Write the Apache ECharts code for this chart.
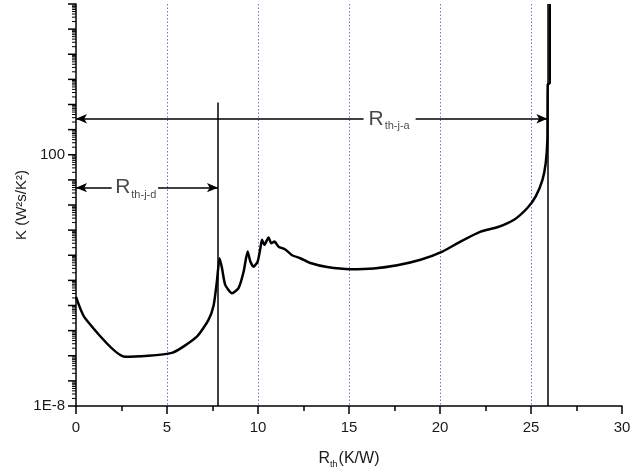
<!DOCTYPE html>
<html>
<head>
<meta charset="utf-8">
<title>Structure function</title>
<script src="https://cdn.jsdelivr.net/npm/echarts@6/dist/echarts.min.js"></script>
<style>
  html, body { margin: 0; background: #fff; }
  #main { width: 630px; height: 467px; }
</style>
</head>
<body>
<div id="main"></div>
<script>
// cumulative thermal resistance R_th (K/W)
const rth = [0, 0.5, 2.7, 5.27, 6.64, 7.28, 7.56, 7.74, 7.89, 8.02, 8.2, 8.57, 8.93, 9.21, 9.43,
  9.58, 9.76, 9.98, 10.13, 10.22, 10.35, 10.58, 10.73, 10.9, 11.13, 11.5, 11.87, 12.33, 12.88,
  13.8, 15.08, 16.36, 17.65, 18.93, 20.13, 21.13, 22.23, 23.15, 24.07, 24.8, 25.26, 25.63,
  25.81, 25.9, 25.92, 26.03, 26.03];
// differential structure function K (W^2 s/K^2)
const kValues = [2.2e-4, 3.1e-5, 9.1e-7, 1.3e-6, 5.8e-6, 2.7e-5, 1.0e-4, 8.9e-4, 7.6e-3, 3.1e-3,
  6.6e-4, 3.1e-4, 4.9e-4, 2.2e-3, 1.4e-2, 5.6e-3, 3.5e-3, 5.6e-3, 1.9e-2, 4.1e-2, 2.6e-2, 5.1e-2,
  3.0e-2, 3.5e-2, 2.2e-2, 1.7e-2, 1.0e-2, 7.6e-3, 4.9e-3, 3.4e-3, 2.8e-3, 3.0e-3, 4.0e-3, 6.6e-3,
  1.4e-2, 3.5e-2, 8.7e-2, 0.13, 0.26, 0.76, 2.2, 10, 47, 400, 6.2e4, 7.1e4, 1e8];

const xTicks = ['0', '5', '10', '15', '20', '25', '30'];
const gridAt = [5, 10, 15, 20, 25];                 // dotted verticals
const yLabelText = { '2': '100', '-8': '1E-8' };   // only these decades are labelled

// markers
const rthJD = 7.8;     // junction -> die
const rthJA = 25.9;    // junction -> ambient
const arrowJD = 4.9;   // K level of the R_th-j-d arrow
const arrowJA = 2700;  // K level of the R_th-j-a arrow

const chart = echarts.init(document.getElementById('main'));

// y ticks: every decade (long) and 2..9 inside each decade (short)
// [x, value, tick length, decade exponent or -99]
let yTicks = [];
for (let n = -8; n <= 8; n++) {
  yTicks.push([0, Math.pow(10, n), 8, n]);
  if (n < 8) {
    for (let k = 2; k <= 9; k++) {
      yTicks.push([0, k * Math.pow(10, n), 4, -99]);
    }
  }
}

const font = 'Liberation Sans, Arial, sans-serif';

var option = {
  animation: false,
  grid: { left: 76, right: 8, top: 4, bottom: 61, outerBoundsMode: 'none', containLabel: false },
  xAxis: {
    type: 'value',
    min: 0,
    max: 30,
    interval: 5,
    name: '{r|R}{s|th}{r|(K/W)}',
    nameLocation: 'middle',
    nameGap: 42,
    nameTextStyle: {
      rich: {
        r: { fontSize: 16, color: '#1a1a1a', fontFamily: font },
        s: { fontSize: 9, color: '#1a1a1a', fontFamily: font, padding: [12, 1, 0, 0] }
      }
    },
    axisLine: { lineStyle: { color: '#000', width: 1.5 } },
    axisTick: { length: 8, lineStyle: { color: '#000', width: 1.5 } },
    minorTick: { show: true, splitNumber: 2, length: 5, lineStyle: { color: '#000', width: 1.5 } },
    axisLabel: {
      fontSize: 15, color: '#1a1a1a', fontFamily: font, margin: 14,
      formatter: v => xTicks[Math.round(v / 5)]
    },
    splitLine: { show: false }
  },
  yAxis: {
    type: 'log',
    logBase: 10,
    min: 1e-8,
    max: 1e8,
    name: 'K (W²s/K²)',
    nameLocation: 'middle',
    nameGap: 47,
    nameTextStyle: { fontSize: 15, color: '#1a1a1a', fontFamily: font },
    axisLine: { lineStyle: { color: '#000', width: 1.5 } },
    axisTick: { show: false },
    axisLabel: { show: false },
    splitLine: { show: false }
  },
  series: [
    {
      name: 'grid lines',
      type: 'custom',
      silent: true,
      data: gridAt.map(x => [x]),
      renderItem: function (params, api) {
        const top = api.coord([api.value(0), 1e8]);
        const bottom = api.coord([api.value(0), 1e-8]);
        const x = Math.round(top[0]) + 0.5;
        return {
          type: 'line',
          shape: { x1: x, y1: top[1], x2: x, y2: bottom[1] },
          style: { stroke: '#7474d4', lineWidth: 1, lineDash: [1.5, 2] }
        };
      },
      z: 1
    },
    {
      name: 'K',
      type: 'line',
      data: rth.map((x, i) => [x, kValues[i]]),
      showSymbol: false,
      smooth: 0.2,
      lineStyle: { color: '#000', width: 2.5 },
      z: 5
    },
    {
      name: 'markers',
      type: 'line',
      data: [],
      markLine: {
        silent: true,
        symbolSize: [7, 11],
        label: { show: false },
        lineStyle: { color: '#000', width: 1.5, type: 'solid' },
        data: [
          [{ coord: [rthJD, 1e-8], symbol: 'none' }, { coord: [rthJD, 1.2e4], symbol: 'none' }],
          [{ coord: [rthJA, 1e-8], symbol: 'none' }, { coord: [rthJA, 1e8], symbol: 'none' }],
          [{ coord: [0, arrowJA], symbol: 'arrow' }, { coord: [15.8, arrowJA], symbol: 'none' }],
          [{ coord: [18.66, arrowJA], symbol: 'none' }, { coord: [rthJA, arrowJA], symbol: 'arrow' }],
          [{ coord: [0, arrowJD], symbol: 'arrow' }, { coord: [1.96, arrowJD], symbol: 'none' }],
          [{ coord: [4.51, arrowJD], symbol: 'none' }, { coord: [rthJD, arrowJD], symbol: 'arrow' }]
        ]
      }
    },
    {
      name: 'labels',
      type: 'scatter',
      symbolSize: 0,
      silent: true,
      data: [
        { value: [16.07, arrowJA], sub: 'th-j-a' },
        { value: [2.15, arrowJD], sub: 'th-j-d' }
      ],
      label: {
        show: true,
        position: 'right',
        distance: 0,
        formatter: p => '{r|R}{s|' + p.data.sub + '}',
        rich: {
          r: { fontSize: 21, color: '#1a1a1a', fontFamily: font },
          s: { fontSize: 11, color: '#1a1a1a', fontFamily: font, padding: [14, 0, 0, 1] }
        }
      }
    },
    {
      name: 'y ticks',
      type: 'custom',
      silent: true,
      clip: false,
      data: yTicks,
      renderItem: function (params, api) {
        const p = api.coord([api.value(0), api.value(1)]);
        const len = api.value(2);
        const text = yLabelText[String(api.value(3))];
        const children = [{
          type: 'line',
          shape: { x1: p[0] - len, y1: p[1], x2: p[0], y2: p[1] },
          style: { stroke: '#000', lineWidth: len > 5 ? 1.5 : 1 }
        }];
        if (text) {
          children.push({
            type: 'text',
            x: p[0] - 11,
            y: p[1],
            style: {
              text: text, fill: '#1a1a1a', font: '15px ' + font,
              align: 'right', verticalAlign: 'middle'
            }
          });
        }
        return { type: 'group', children: children };
      }
    }
  ]
};

chart.setOption(option);
</script>
</body>
</html>
